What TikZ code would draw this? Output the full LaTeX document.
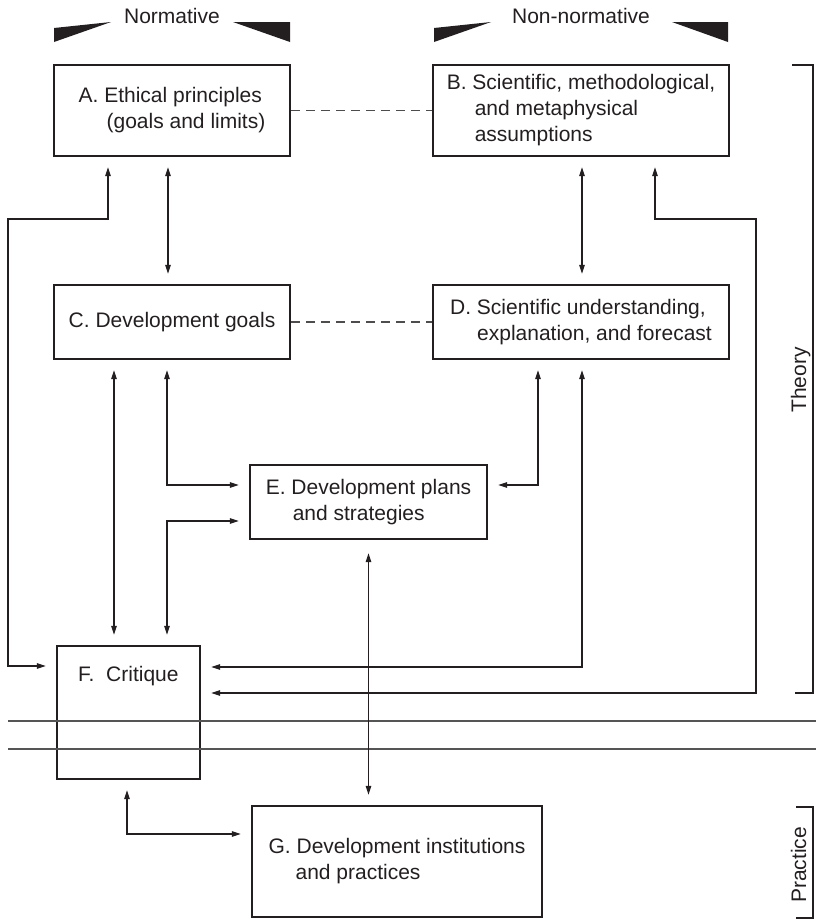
\documentclass[tikz,border=0pt]{standalone}
\usepackage{fontspec}
\setmainfont{Liberation Sans}
\usetikzlibrary{arrows.meta}
\definecolor{ink}{HTML}{231F20}
\definecolor{rule}{HTML}{555555}
\tikzset{
  boxnode/.style={draw=ink, line width=2.4pt, inner sep=0pt, align=left, text=ink},
  txt/.style={inner sep=0pt, text=ink},
  conn/.style={draw=ink, line width=1.1pt, {Triangle[length=9pt,width=5.5pt]}-{Triangle[length=9pt,width=5.5pt]}, shorten >=10pt, shorten <=10pt},
  dashconn/.style={draw=ink!80, line width=1.1pt, dash pattern=on 9pt off 6pt},
  wedge/.style={fill=ink, draw=none},
  bracket/.style={draw=ink, line width=2.4pt},
  sep/.style={draw=rule, line width=1.4pt}
}
\begin{document}
\begin{tikzpicture}[x=1pt, y=-1pt, font=\fontsize{21}{26}\selectfont]
\useasboundingbox (0,0) rectangle (816,919);

% header wedges
\fill[wedge] (54,28) -- (111,22) -- (54,42) -- cycle;
\fill[wedge] (233,22) -- (290,22) -- (290,42) -- cycle;
\fill[wedge] (434,28) -- (491,22) -- (434,42) -- cycle;
\fill[wedge] (672,22) -- (728,22) -- (728,42) -- cycle;
\node[txt, anchor=base] (norm) at (172,23) {Normative};
\node[txt, anchor=base] (nonnorm) at (581,23) {Non-normative};

% boxes
\node[boxnode, minimum width=236pt, minimum height=91pt] (A) at (172,110.5)
  {A. Ethical principles\\\hspace*{28pt}(goals and limits)};
\node[boxnode, minimum width=296pt, minimum height=91pt] (B) at (581,110.5)
  {B. Scientific, methodological,\\\hspace*{28pt}and metaphysical\\\hspace*{28pt}assumptions};
\node[boxnode, minimum width=236pt, minimum height=74pt] (C) at (172,322)
  {C. Development goals};
\node[boxnode, minimum width=296pt, minimum height=74pt] (D) at (581,322)
  {D. Scientific understanding,\\\hspace*{27pt}explanation, and forecast};
\node[boxnode, minimum width=237pt, minimum height=74pt] (E) at (368.5,502)
  {E. Development plans\\\hspace*{27pt}and strategies};
\node[boxnode, minimum width=143pt, minimum height=133pt] (F) at (128.5,712.5) {};
\node[txt, anchor=base west] (Ftext) at (78,681) {F.\ \ Critique};
\node[boxnode, minimum width=290pt, minimum height=111pt] (G) at (397,861.5)
  {G. Development institutions\\\hspace*{27pt}and practices};

% separator lines
\coordinate (s1l) at (8,721); \coordinate (s1r) at (816,721);
\coordinate (s2l) at (8,749); \coordinate (s2r) at (816,749);
\draw[sep] (s1l) -- (s1r);
\draw[sep] (s2l) -- (s2r);

% brackets
\coordinate (t1) at (792,65); \coordinate (t2) at (813,65);
\coordinate (t3) at (813,693); \coordinate (t4) at (795,693);
\draw[bracket] (t1) -- (t2) -- (t3) -- (t4);
\node[txt, rotate=90, anchor=base] (theory) at (806,380) {Theory};
\coordinate (p1) at (796,807); \coordinate (p2) at (813,807);
\coordinate (p3) at (813,917.8); \coordinate (p4) at (796,917.8);
\draw[bracket] (p1) -- (p2) -- (p3) -- (p4);
\node[txt, rotate=90, anchor=base] (practice) at (806,865) {Practice};

% dashed links
\draw[dashconn] (A.east) -- (B.west);
\draw[dashconn] (C.east) -- (D.west);

% corner coordinates
\coordinate (la) at (8,219);
\coordinate (rb) at (756,219);

% connectors
\draw[conn] ([xshift=-4pt]A.south) -- ([xshift=-4pt]C.north);
\draw[conn] ([xshift=1pt]B.south) -- ([xshift=1pt]D.north);
\draw[conn] ([xshift=-64pt]A.south) |- (la) |- ([yshift=46.5pt]F.west);
\draw[conn] ([xshift=74pt]B.south) |- (rb) |- ([yshift=19.5pt]F.east);
\draw[conn] ([xshift=-58pt]C.south) -- ([xshift=-14.5pt]F.north);
\draw[conn] ([xshift=-5pt]C.south) |- ([yshift=17pt]E.west);
\draw[conn] ([xshift=38.5pt]F.north) |- ([yshift=-19pt]E.west);
\draw[conn] ([xshift=-43pt]D.south) |- ([yshift=17pt]E.east);
\draw[conn] ([xshift=1pt]D.south) |- ([yshift=45.5pt]F.east);
\draw[conn, shorten <=13pt] (E.south) -- (E.south |- G.north);
\draw[conn] ([xshift=-1.5pt]F.south) |- ([yshift=27.5pt]G.west);
\end{tikzpicture}
\end{document}
